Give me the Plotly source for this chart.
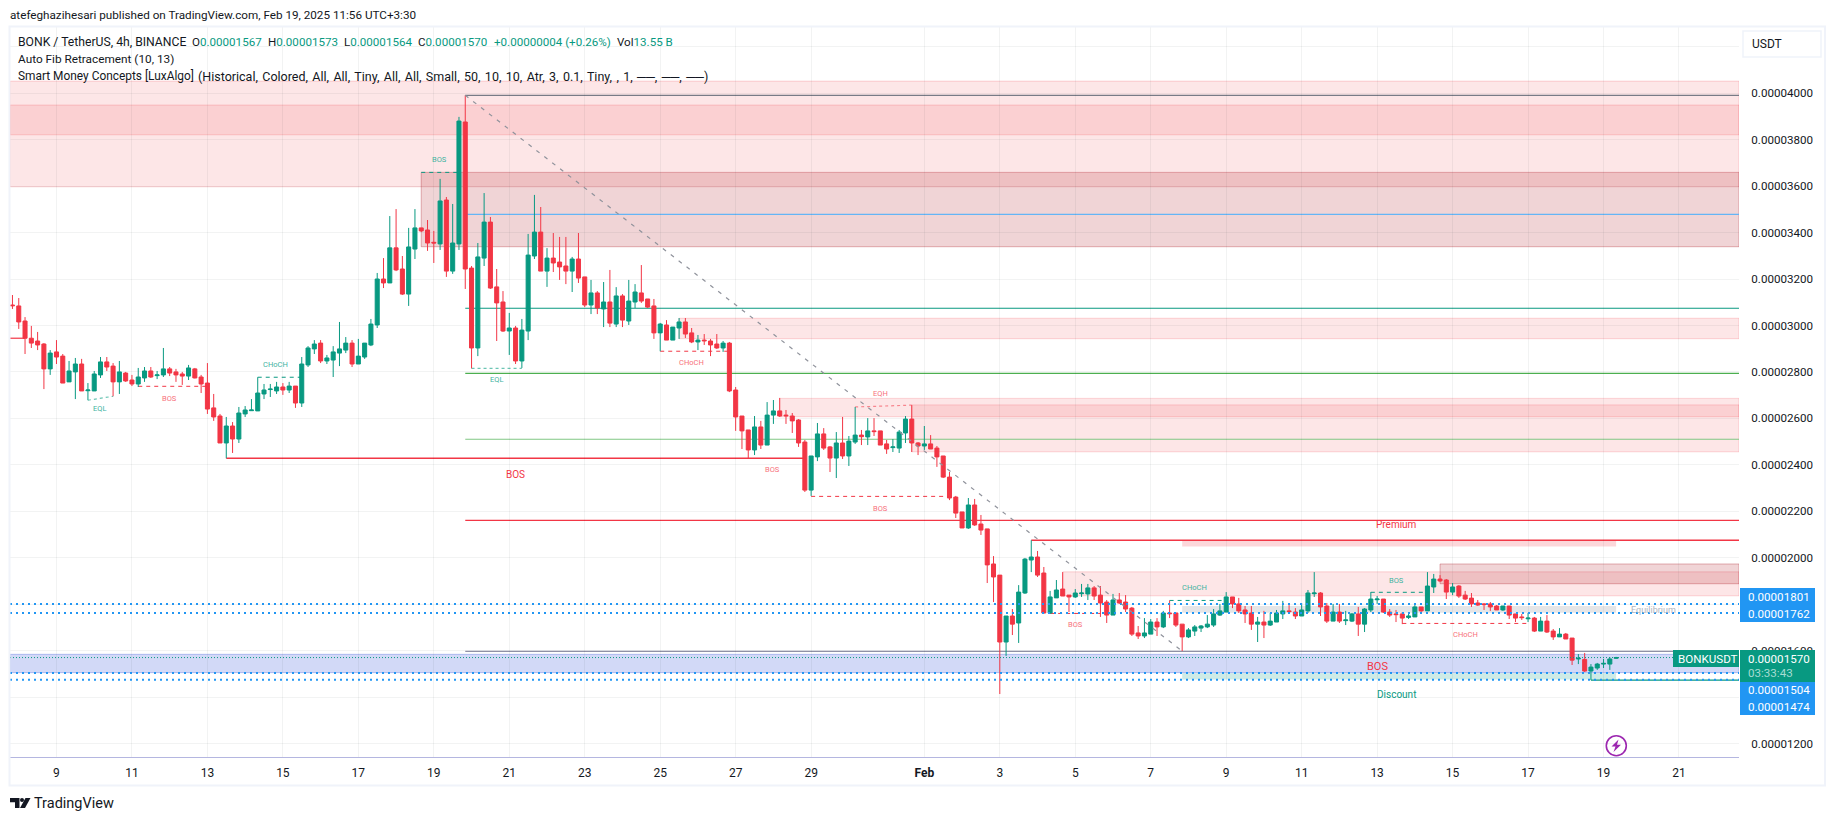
import pandas as pd
import plotly.graph_objects as go

UNIT = 1e-8
FIRST_BAR = pd.Timestamp("2025-01-07 20:00")
BAR_HOURS = 4

opens = [
 3088,3084,3019,2945,2933,2920,2813,2886,2868,2757,
 2800,2834,2719,2718,2787,2843,2825,2757,2795,2765,
 2748,2774,2804,2784,2787,2813,2800,2791,2782,2813,
 2778,2752,2645,2610,2494,2567,2511,2619,2633,2632,
 2705,2724,2718,2735,2722,2739,2666,2830,2899,2924,
 2847,2851,2881,2894,2924,2834,2864,2916,3002,3200,
 3183,3334,3243,3135,3329,3420,3411,3358,3351,3540,
 3234,3351,3876,3247,2903,3290,3445,3166,3101,2976,
 2989,2847,2976,3299,3402,3234,3290,3273,3256,3234,
 3286,3209,3088,3140,3071,3101,3006,3127,3019,3101,
 3140,3114,3084,2968,3002,2937,2989,3015,2968,2929,
 2937,2933,2920,2903,2924,2722,2610,2550,2464,2563,
 2485,2614,2632,2614,2610,2593,2498,2291,2434,2533,
 2477,2429,2494,2438,2498,2528,2520,2546,2546,2490,
 2474,2472,2537,2597,2494,2481,2490,2472,2438,2347,
 2261,2197,2128,2227,2145,2124,1973,1925,1637,1749,
 1719,1848,1990,2003,1934,1762,1827,1865,1839,1831,
 1845,1844,1870,1839,1809,1753,1818,1809,1783,1676,
 1663,1671,1723,1702,1762,1762,1714,1659,1684,1697,
 1702,1710,1753,1766,1831,1801,1775,1762,1714,1723,
 1710,1723,1758,1771,1766,1749,1771,1845,1848,1792,
 1727,1766,1729,1727,1758,1714,1775,1819,1822,1766,
 1758,1758,1743,1745,1788,1771,1874,1908,1904,1852,
 1878,1839,1826,1805,1801,1801,1792,1775,1792,1758,
 1745,1737,1740,1684,1727,1684,1659,1671,1654,1564,
 1562,1512,1525,1542,1542,1567]
highs = [
 3131,3118,3036,2998,2972,2924,2894,2937,2877,2847,
 2860,2856,2752,2804,2864,2864,2838,2847,2800,2787,
 2817,2821,2821,2804,2903,2821,2813,2800,2830,2817,
 2787,2838,2705,2619,2606,2584,2649,2653,2683,2777,
 2748,2748,2757,2752,2757,2739,2864,2911,2937,2937,
 2873,2911,3015,2950,2937,2942,2924,3028,3226,3290,
 3471,3501,3299,3420,3501,3420,3454,3407,3631,3553,
 3523,3898,3991,3256,3355,3570,3467,3243,3148,3054,
 2998,3028,3394,3562,3510,3333,3398,3381,3381,3295,
 3398,3209,3196,3148,3187,3239,3165,3135,3196,3178,
 3260,3114,3114,3011,3023,2993,3032,3032,2989,2959,
 2963,2942,2963,2933,2929,2735,2610,2550,2610,2589,
 2670,2679,2688,2636,2623,2597,2507,2438,2580,2558,
 2481,2541,2606,2524,2649,2550,2601,2601,2546,2507,
 2511,2550,2610,2657,2498,2567,2528,2481,2438,2369,
 2266,2197,2257,2253,2184,2124,2007,1925,1749,1779,
 1882,1999,2075,2029,1960,1857,1904,1938,1839,1865,
 1887,1887,1878,1878,1818,1844,1848,1839,1788,1706,
 1740,1736,1740,1771,1816,1762,1714,1697,1710,1710,
 1753,1779,1801,1852,1831,1827,1792,1792,1745,1771,
 1762,1775,1814,1796,1783,1805,1861,1938,1852,1805,
 1801,1801,1771,1762,1788,1783,1852,1835,1822,1779,
 1775,1766,1762,1796,1788,1938,1930,1925,1908,1891,
 1882,1857,1848,1818,1805,1809,1796,1792,1792,1758,
 1758,1762,1745,1745,1753,1693,1697,1676,1654,1585,
 1590,1542,1547,1564,1572,1573]
lows = [
 3071,2985,2877,2903,2894,2726,2787,2834,2752,2757,
 2683,2718,2678,2718,2774,2804,2695,2705,2757,2739,
 2735,2757,2774,2769,2778,2782,2757,2744,2765,2772,
 2709,2619,2589,2494,2428,2451,2494,2606,2633,2632,
 2683,2692,2705,2701,2709,2645,2649,2821,2877,2838,
 2834,2778,2825,2881,2821,2834,2856,2911,2989,3161,
 3183,3234,3131,3084,3286,3402,3321,3269,3325,3209,
 3222,3325,3157,2815,2868,3256,3157,2933,2972,2873,
 2834,2817,2937,3286,3234,3166,3230,3196,3178,3144,
 3183,3079,3049,3049,2993,2993,2993,2993,3002,3075,
 3097,3075,2942,2889,2937,2937,2942,2946,2924,2894,
 2916,2868,2899,2886,2713,2546,2468,2428,2442,2468,
 2485,2576,2606,2576,2537,2477,2283,2266,2416,2464,
 2369,2343,2425,2395,2490,2485,2485,2524,2485,2447,
 2455,2451,2494,2455,2442,2464,2468,2391,2343,2248,
 2171,2128,2124,2137,2098,1891,1809,1413,1577,1667,
 1633,1844,1938,1917,1758,1758,1827,1835,1766,1827,
 1831,1818,1818,1745,1719,1753,1801,1766,1663,1650,
 1654,1671,1663,1697,1740,1702,1598,1654,1663,1680,
 1697,1702,1749,1766,1783,1762,1719,1689,1637,1654,
 1706,1723,1736,1758,1736,1749,1762,1831,1749,1719,
 1727,1719,1710,1723,1663,1680,1766,1801,1762,1745,
 1723,1714,1736,1745,1758,1771,1848,1895,1822,1839,
 1827,1818,1788,1792,1775,1771,1775,1771,1736,1723,
 1732,1723,1680,1684,1676,1646,1659,1650,1538,1542,
 1508,1473,1517,1525,1517,1564]
closes = [
 3085,3015,2945,2924,2916,2813,2881,2864,2752,2804,
 2834,2718,2722,2791,2843,2821,2757,2800,2761,2748,
 2778,2804,2778,2787,2813,2795,2787,2782,2817,2774,
 2748,2640,2606,2494,2567,2511,2623,2636,2636,2709,
 2722,2726,2735,2722,2739,2666,2834,2903,2920,2847,
 2860,2886,2899,2924,2834,2868,2924,3006,3200,3183,
 3334,3239,3135,3338,3420,3407,3355,3355,3536,3234,
 3355,3880,3243,2903,3295,3445,3161,3097,2976,2989,
 2847,2980,3303,3402,3234,3290,3269,3252,3234,3286,
 3204,3088,3140,3075,3101,3010,3127,3023,3105,3144,
 3105,3079,2968,3006,2937,2993,3015,2963,2929,2937,
 2934,2916,2903,2924,2718,2606,2546,2464,2563,2485,
 2614,2632,2610,2611,2589,2494,2291,2438,2533,2472,
 2429,2494,2438,2502,2528,2521,2546,2543,2485,2468,
 2477,2541,2597,2494,2481,2490,2468,2434,2347,2257,
 2192,2128,2227,2141,2119,1969,1917,1637,1749,1714,
 1852,1994,2003,1925,1762,1831,1861,1835,1831,1848,
 1848,1870,1835,1805,1753,1818,1805,1779,1671,1663,
 1676,1723,1702,1762,1759,1710,1659,1689,1702,1706,
 1714,1758,1771,1831,1801,1771,1758,1714,1723,1710,
 1727,1762,1771,1768,1749,1775,1848,1848,1788,1727,
 1766,1727,1732,1758,1714,1779,1822,1822,1766,1753,
 1755,1740,1749,1788,1771,1878,1908,1900,1852,1874,
 1835,1822,1801,1796,1798,1788,1775,1792,1753,1740,
 1742,1740,1684,1727,1680,1659,1671,1650,1559,1567,
 1512,1529,1542,1545,1564,1570]

tick_dates = ["2025-01-09","2025-01-11","2025-01-13","2025-01-15","2025-01-17","2025-01-19",
              "2025-01-21","2025-01-23","2025-01-25","2025-01-27","2025-01-29","2025-02-01",
              "2025-02-03","2025-02-05","2025-02-07","2025-02-09","2025-02-11","2025-02-13",
              "2025-02-15","2025-02-17","2025-02-19","2025-02-21"]
tick_labels = ["9","11","13","15","17","19","21","23","25","27","29","<b>Feb</b>",
               "3","5","7","9","11","13","15","17","19","21"]
price_ticks = list(range(1200, 4400, 200))
price_labels = ["0.%08d" % p if p < 4200 else "" for p in price_ticks]

# zones: low, high, first bar (None = from the left edge)
light_zone_low   = [3597, 3821, 2943, 2607, 2456, 1836]
light_zone_high  = [4052, 3949, 3031, 2686, 2658, 1939]
light_zone_start = [None, None, 106, 122, 143, 167]
dark_zone_low    = [3339, 1888]
dark_zone_high   = [3659, 1973]
dark_zone_start  = [65, 227]
band_low, band_high = 1505, 1584
summary_names = ["premium", "equilibrium", "discount"]
summary_low   = [2048, 1763, 1476]
summary_high  = [2075, 1792, 1502]
summary_start, summary_end = 186, 255

# retracement levels from the swing high bar to the right edge
fib_levels = [3991, 3478, 3074, 2794, 2510, 2161, 1597]
fib_start = 72
swing_high_level, swing_high_start = 2075, 162
swing_low_level, swing_low_start = 1473, 251
big_bos_level, big_bos_start, big_bos_end = 2428, 34, 126
left_stub_level, left_stub_end = 2945, 2
price_lines = [1801, 1762, 1504, 1474]
last_price = 1570

# structure breaks: level, first bar, last bar
red_break_level = [2738, 2889, 2264, 1760, 1717]
red_break_start = [20, 103, 127, 165, 221]
red_break_end   = [31, 114, 149, 173, 241]
green_break_level = [2777, 3659, 1816, 1851]
green_break_start = [39, 65, 184, 216]
green_break_end   = [46, 71, 193, 225]
eql_bars = [(12, 16), (73, 81)]
eql_levels = [(2678, 2695), (2815, 2815)]
eqh_bars = (134, 143)
eqh_levels = (2649, 2657)
diagonal_bars = (72, 186)
diagonal_levels = (3991, 1598)

small_text  = ["BOS","EQL","BOS","CHoCH","EQL","CHoCH","EQH","BOS","BOS","BOS","CHoCH","BOS","CHoCH"]
small_bar   = [67.9,13.9,24.9,41.9,76.9,108,138,120.9,138,169,188,220,231]
small_price = [3715,2642,2686,2833,2766,2841,2708,2381,2213,1712,1871,1903,1670]
small_green = [1,1,0,1,1,0,0,0,0,0,1,1,0]
big_text  = ["BOS","BOS","Premium","Discount","Equilibrium"]
big_bar   = [80,217,220.1,220,260.9]
big_price = [2360,1531,2142,1410,1775]

GREEN, RED = "#089981", "#f23645"
W, H = 1835, 821
L, R, T, B = 10, 96, 27, 64
FONT = "Roboto"
NUM = 11.6
GRID = "rgba(42,46,57,0.06)"

def t(bar):
    return FIRST_BAR + pd.Timedelta(hours=BAR_HOURS * bar)
def fmt(ts):
    return ts.strftime("%Y-%m-%d %H:%M:%S")
def px(x):
    return (x - L) / (W - L - R)
def py(y):
    return 1 - (y - T) / (H - T - B)

bars_x = [fmt(t(i)) for i in range(len(opens))]
RANGE_X = ["2025-01-07 18:26:00", "2025-02-22 14:10:00"]
RIGHT = RANGE_X[1]
LEFT = RANGE_X[0]

shapes = []
def zone(x0, x1, lo, hi, fill, line=None, layer="below"):
    shapes.append(dict(type="rect", xref="x", yref="y", x0=x0, x1=x1, y0=lo*UNIT, y1=hi*UNIT,
                       fillcolor=fill, line=dict(width=1 if line else 0, color=line or "rgba(0,0,0,0)"), layer=layer))
def seg(x0, x1, y0, y1, color, width=1, dash="solid", layer="below"):
    shapes.append(dict(type="line", xref="x", yref="y", x0=x0, x1=x1, y0=y0*UNIT, y1=y1*UNIT,
                       line=dict(color=color, width=width, dash=dash), layer=layer))

for lo, hi, s in zip(light_zone_low, light_zone_high, light_zone_start):
    zone(LEFT if s is None else fmt(t(s)), RIGHT, lo, hi, "rgba(236,60,72,0.13)", "rgba(242,54,69,0.2)")
for lo, hi, s in zip(dark_zone_low, dark_zone_high, dark_zone_start):
    zone(fmt(t(s)), RIGHT, lo, hi, "rgba(178,40,51,0.2)", "rgba(178,40,51,0.35)")
zone(LEFT, RIGHT, band_low, band_high, "rgba(50,80,220,0.22)", "rgba(50,80,220,0.3)")
for name, lo, hi in zip(summary_names, summary_low, summary_high):
    fill = {"premium": "rgba(242,54,69,0.2)", "equilibrium": "rgba(120,123,134,0.2)", "discount": "rgba(8,153,129,0.2)"}[name]
    zone(fmt(t(summary_start)), fmt(t(summary_end)), lo, hi, fill)

fib_colors = ["#787b86", "#64b5f6", "#089981", "#4caf50", "#81c784", "#f23645", "#8f90a6"]
for lv, c in zip(fib_levels, fib_colors):
    seg(fmt(t(fib_start)), RIGHT, lv, lv, c, 1.2)
seg(fmt(t(swing_high_start)), RIGHT, swing_high_level, swing_high_level, RED, 1.5)
seg(fmt(t(swing_low_start)), RIGHT, swing_low_level, swing_low_level, GREEN, 1.2)
seg(fmt(t(big_bos_start)), fmt(t(big_bos_end)), big_bos_level, big_bos_level, RED, 1.5)
seg(LEFT, fmt(t(left_stub_end)), left_stub_level, left_stub_level, RED, 1.2)
for lv in price_lines:
    seg(LEFT, RIGHT, lv, lv, "#2196f3", 2, "2px,4px", "above")
seg(LEFT, RIGHT, last_price, last_price, GREEN, 1, "1px,2px", "above")
for lv, s, e in zip(red_break_level, red_break_start, red_break_end):
    seg(fmt(t(s)), fmt(t(e)), lv, lv, RED, 1, "4px,4px")
for lv, s, e in zip(green_break_level, green_break_start, green_break_end):
    seg(fmt(t(s)), fmt(t(e)), lv, lv, GREEN, 1, "4px,4px")
for (s, e), (a, b) in zip(eql_bars, eql_levels):
    seg(fmt(t(s)), fmt(t(e)), a, b, "#6cc5b4", 1.2, "dot")
seg(fmt(t(eqh_bars[0])), fmt(t(eqh_bars[1])), eqh_levels[0], eqh_levels[1], "#f7858e", 1.2, "dot")
seg(fmt(t(diagonal_bars[0])), fmt(t(diagonal_bars[1])), diagonal_levels[0], diagonal_levels[1], "#8f929b", 1.2, "4px,6px", "above")

def box(x0, y0, x1, y1, fill="rgba(0,0,0,0)", line=None, width=0):
    shapes.append(dict(type="rect", xref="paper", yref="paper", x0=px(x0), x1=px(x1), y0=py(y0), y1=py(y1),
                       fillcolor=fill, line=dict(color=line or "rgba(0,0,0,0)", width=width), layer="above"))

# frame and price tags
box(9.5, 26.5, 1825, 785.5, line="#f0f3fa", width=2)
box(1673, 650, 1739, 667, GREEN)
box(1740, 650, 1815, 682, GREEN)
box(1740, 588, 1815, 622, "#2196f3")
box(1740, 682, 1815, 715, "#2196f3")
box(1743, 31, 1821, 57, "#ffffff", "#f0f3fa", 1.5)
shapes.append(dict(type="circle", xref="paper", yref="paper", x0=px(1606.3), x1=px(1626.3), y0=py(735.7), y1=py(755.7),
                   line=dict(color="#9c27b0", width=1.6), fillcolor="rgba(0,0,0,0)", layer="above"))
bolt = [(1618.5,739.5),(1611.5,746.5),(1615.5,746.5),(1613.5,752),(1621,744.8),(1617,744.8)]
shapes.append(dict(type="path", xref="paper", yref="paper",
                   path="M " + " L ".join(f"{px(a)} {py(b)}" for a, b in bolt) + " Z",
                   fillcolor="#9c27b0", line=dict(width=0), layer="above"))
# logo glyph
shapes.append(dict(type="path", xref="paper", yref="paper",
                   path="M " + " L ".join(f"{px(a)} {py(b)}" for a, b in [(10,798),(19.5,798),(19.5,808),(15,808),(15,802.3),(10,802.3)]) + " Z",
                   fillcolor="#131722", line=dict(width=0), layer="above"))
shapes.append(dict(type="circle", xref="paper", yref="paper", x0=px(20), x1=px(24), y0=py(798), y1=py(802),
                   fillcolor="#131722", line=dict(width=0), layer="above"))
shapes.append(dict(type="path", xref="paper", yref="paper",
                   path="M " + " L ".join(f"{px(a)} {py(b)}" for a, b in [(25.5,798),(30.5,798),(25,808),(20,808)]) + " Z",
                   fillcolor="#131722", line=dict(width=0), layer="above"))

ann = []
def label(x, y, text, size=12, color="#131722", anchor="left"):
    ann.append(dict(xref="paper", yref="paper", x=px(x), y=py(y), text=text, showarrow=False,
                    xanchor=anchor, yanchor="middle", font=dict(family=FONT, size=size, color=color), borderpad=0, borderwidth=0))

v = lambda s: f'<span style="color:{GREEN}">{s}</span>'
legend_x = [18, 191.7, 268, 344.3, 418.3, 494, 617]
legend_s = ["BONK / TetherUS, 4h, BINANCE", "O" + v("0.00001567"), "H" + v("0.00001573"), "L" + v("0.00001564"),
            "C" + v("0.00001570"), v("+0.00000004 (+0.26%)"), "Vol" + v("13.55 B")]
label(10, 15, "atefeghazihesari published on TradingView.com, Feb 19, 2025 11:56 UTC+3:30", 11.7)
for lx, ls in zip(legend_x, legend_s):
    label(lx, 41.5, ls, 12.2 if lx < 100 else NUM)
label(18, 59, "Auto Fib Retracement (10, 13)", 11.8)
label(18, 76, "Smart Money Concepts [LuxAlgo]", 11.9)
params = "(Historical, Colored, All, All, Tiny, All, All, Small, 50, 10, 10, Atr, 3, 0.1, Tiny, , 1, ──, ──, ──)"
label(198, 76, params.replace(", ", ",\u200a "), 12.5)
label(1752, 44, "USDT", 12)
label(1678, 658.5, "BONKUSDT", NUM, "#ffffff")
label(1748, 658.5, "0.00001570", NUM, "#ffffff")
label(1748, 673, "03:33:43", NUM, "#a6dcd2")
label(1748, 596.5, "0.00001801", NUM, "#ffffff")
label(1748, 613.5, "0.00001762", NUM, "#ffffff")
label(1748, 690, "0.00001504", NUM, "#ffffff")
label(1748, 707, "0.00001474", NUM, "#ffffff")
label(34, 803.5, "TradingView", 14.5)

for s, b_, p, g in zip(small_text, small_bar, small_price, small_green):
    ann.append(dict(xref="x", yref="y", x=fmt(t(b_)), y=p*UNIT, text=s, showarrow=False, xanchor="center", yanchor="middle",
                    font=dict(family=FONT, size=7.5, color=("#3fb39f" if g else "#f7707a"))))
big_colors = ["#f23645", "#f23645", "#f23645", "#089981", "#b2b5be"]
big_sizes = [10, 11, 10, 10, 9]
for s, b_, p, c, z in zip(big_text, big_bar, big_price, big_colors, big_sizes):
    ann.append(dict(xref="x", yref="y", x=fmt(t(b_)), y=p*UNIT, text=s, showarrow=False, xanchor="center", yanchor="middle",
                    font=dict(family=FONT, size=z, color=c)))

fig = go.Figure(go.Candlestick(
    x=bars_x,
    open=[a*UNIT for a in opens], high=[a*UNIT for a in highs],
    low=[a*UNIT for a in lows], close=[a*UNIT for a in closes],
    increasing=dict(line=dict(color=GREEN, width=1), fillcolor=GREEN),
    decreasing=dict(line=dict(color=RED, width=1), fillcolor=RED),
    whiskerwidth=0, hoverinfo="skip", showlegend=False))

fig.update_layout(
    width=W, height=H, autosize=False,
    margin=dict(l=L, r=R, t=T, b=B, pad=0),
    paper_bgcolor="#ffffff", plot_bgcolor="#ffffff",
    boxgap=0.36, boxgroupgap=0,
    font=dict(family=FONT, size=12, color="#131722"),
    shapes=shapes, annotations=ann, showlegend=False,
    xaxis=dict(type="date", range=RANGE_X, rangeslider=dict(visible=False),
               tickmode="array", tickvals=tick_dates, ticktext=tick_labels, tickangle=0,
               showgrid=True, gridcolor=GRID, gridwidth=1, zeroline=False,
               showline=True, linecolor="#b4b6e0", linewidth=1,
               ticks="outside", ticklen=5, tickcolor="rgba(0,0,0,0)", tickfont=dict(size=12)),
    yaxis=dict(side="right", range=[1141.9*UNIT, 4285*UNIT], tickmode="array",
               tickvals=[p*UNIT for p in price_ticks], ticktext=price_labels,
               showgrid=True, gridcolor=GRID, gridwidth=1, zeroline=False, showline=False,
               ticks="outside", ticklen=9, tickcolor="rgba(0,0,0,0)", tickfont=dict(size=NUM)),
)
fig.write_html("out.html", config=dict(displayModeBar=False),
               post_script="document.body.style.margin='0';document.body.style.overflow='hidden';")
